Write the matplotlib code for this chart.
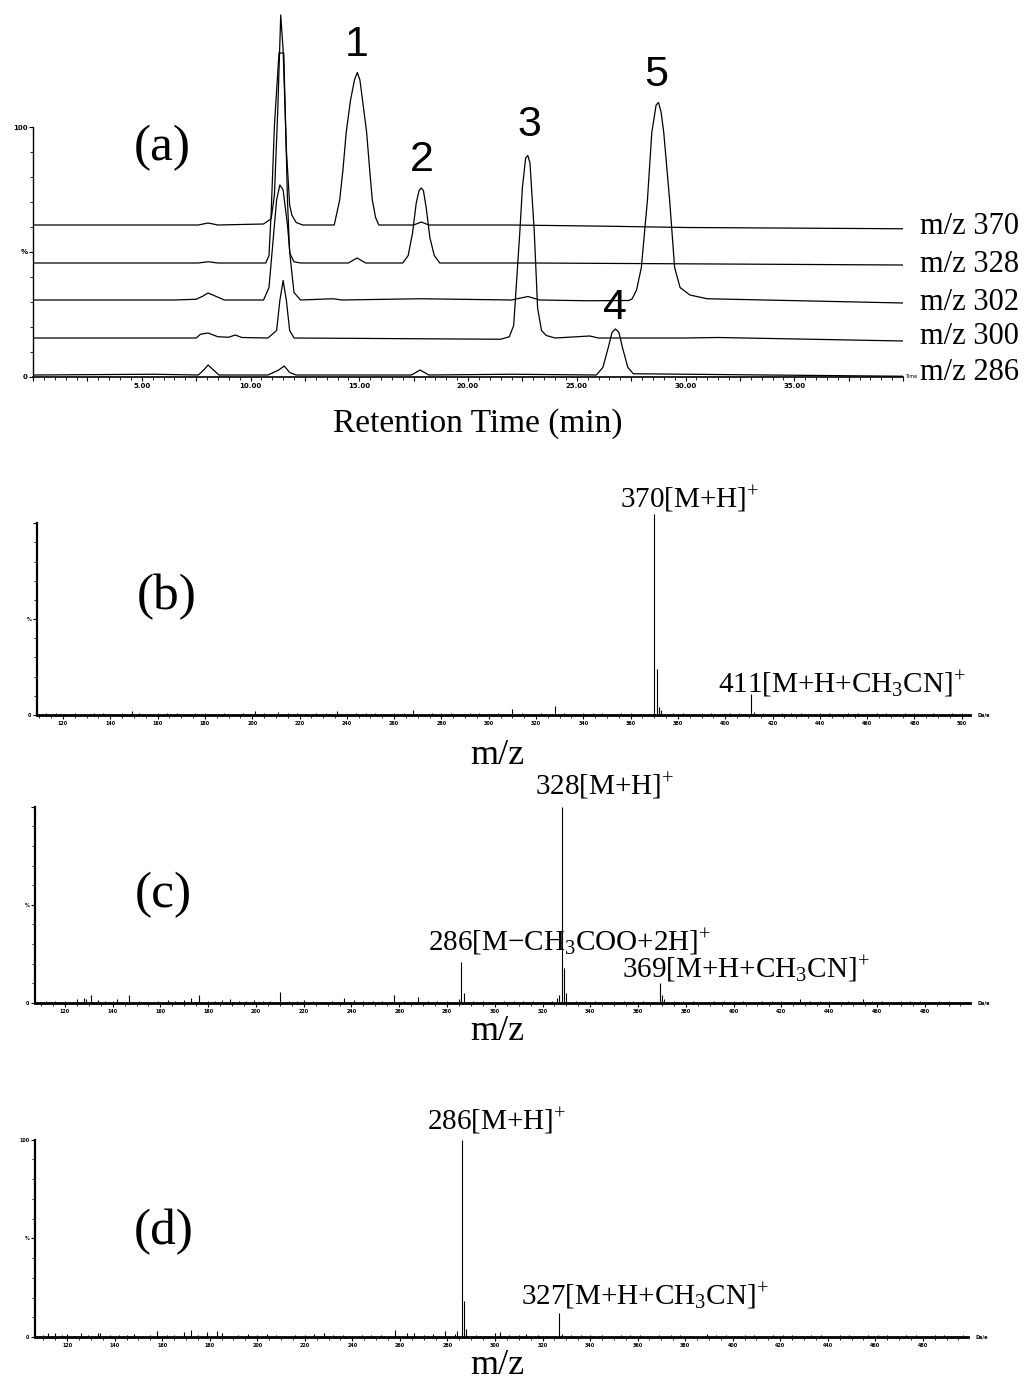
import matplotlib
matplotlib.use("Agg")
import matplotlib.pyplot as plt
from matplotlib.ticker import MultipleLocator, FixedLocator, FuncFormatter

plt.rcParams["mathtext.fontset"] = "custom"
plt.rcParams["mathtext.rm"] = "Liberation Serif"
plt.rcParams["mathtext.it"] = "Liberation Serif:italic"
plt.rcParams["mathtext.bf"] = "Liberation Serif:bold"

SERIF = "Liberation Serif"
SANS = "Liberation Sans"

# ---------------- (a) extracted ion chromatograms ----------------
TRACE_NAMES = ["m/z 370", "m/z 328", "m/z 302", "m/z 300", "m/z 286"]
TRACE_OFFSETS = [60.8, 45.6, 30.8, 15.6, 0.8]

T_370 = [0, 7.6, 8.05, 8.5, 10.6, 10.95, 11.1, 11.25, 11.39, 11.5, 11.65, 11.8, 11.9, 12.1, 12.4,
         13.85, 14.1, 14.25, 14.4, 14.6, 14.78, 14.91, 15.03, 15.15, 15.34, 15.48, 15.6, 15.75, 15.9,
         17.5, 17.85, 18.2, 22.0, 26.5, 30.0, 40.0]
I_370 = [0, 0, 0.8, 0, 0.4, 2.5, 12, 45, 84, 70, 30, 8, 4, 1, 0,
         0, 10, 22, 37, 50, 58, 61, 58, 50, 37, 22, 10, 3, 0,
         0, 1.2, 0, 0, -0.5, -1.0, -1.5]

T_328 = [0, 7.6, 8.05, 8.5, 10.7, 10.85, 10.95, 11.1, 11.31, 11.53, 11.6, 11.7, 11.8, 12.0, 12.3,
         14.5, 14.9, 15.3, 17.0, 17.25, 17.45, 17.62, 17.75, 17.85, 17.95, 18.08, 18.25, 18.45, 18.7,
         22.8, 23.0, 40.0]
I_328 = [0, 0, 0.5, 0, 0, 3, 20, 55, 84, 84, 60, 25, 4, 0.5, 0,
         0, 2, 0, 0, 3, 12, 24, 29, 30, 29, 22, 10, 3, 0,
         0, 0, -0.8]

T_302 = [0, 6.5, 7.5, 7.8, 8.05, 8.4, 8.8, 10.6, 10.85, 11.05, 11.2, 11.35, 11.5, 11.7, 11.85, 12.0, 12.3,
         13.8, 14.2, 17.8, 22.0, 22.75, 23.3, 25.5, 27.4, 27.55, 27.75, 27.97, 28.25, 28.45, 28.65,
         28.76, 28.88, 29.0, 29.27, 29.5, 29.75, 30.2, 31.0, 40.0]
I_302 = [0, 0, 0.3, 1.5, 2.8, 1.5, 0, 0, 5, 25, 40, 46, 44, 30, 15, 3, 0,
         0.5, 0, 0.5, 0, 1.4, 0, -0.3, -0.2, 0.5, 4, 13, 40, 67, 78,
         79, 75, 67, 40, 13, 5, 2, 0.5, -1.2]

T_300 = [0, 7.5, 7.7, 8.05, 8.5, 9.0, 9.3, 9.6, 10.8, 11.2, 11.35, 11.5, 11.65, 11.8, 12.0,
         21.5, 21.9, 22.1, 22.38, 22.5, 22.65, 22.75, 22.85, 23.05, 23.2, 23.38, 23.6, 24.0,
         25.6, 26.0, 30.0, 31.5, 40.0]
I_300 = [0, 0, 1.5, 2, 0.5, 0.3, 1.2, 0.2, 0, 3, 15, 23, 15, 3, 0,
         -0.5, 0.5, 5, 42, 60, 72, 73, 70, 42, 12, 3, 1, 0,
         0.8, 0, 0, 0.2, -1.2]

T_286 = [0, 5.5, 7.6, 7.85, 8.05, 8.3, 8.55, 10.8, 11.3, 11.55, 11.8, 12.1, 17.4, 17.8, 18.2,
         22.0, 25.9, 26.2, 26.45, 26.62, 26.78, 26.94, 27.1, 27.35, 27.6, 40.0]
I_286 = [0, 0.3, 0, 2, 4, 2, 0, 0, 2, 3.6, 1, 0, 0, 2, 0,
         0.3, 0, 3, 11, 17, 18.4, 17, 11, 3, 0.5, -0.5]

TRACES_T = [T_370, T_328, T_302, T_300, T_286]
TRACES_I = [I_370, I_328, I_302, I_300, I_286]

PEAK_NUMBERS = ["1", "2", "3", "4", "5"]
PEAK_NUM_T = [14.88, 17.87, 22.83, 26.74, 28.67]
PEAK_NUM_Y = [132.8, 86.8, 100.8, 27.6, 120.8]

# ---------------- (b) spectrum of peak 370 ----------------
MZ_B = [370, 371, 372, 411, 412, 149, 201, 211, 236, 268, 310, 328, 373,
        113, 117, 121, 125, 129, 133, 137, 141, 145, 152, 156, 160, 164, 168, 172, 176,
        180, 184, 188, 192, 196, 205, 215, 219, 223, 227, 231, 240, 244, 248, 252, 256,
        260, 264, 272, 276, 280, 284, 288, 292, 296, 300, 304, 314, 318, 322, 332, 336,
        340, 344, 348, 352, 356, 360, 364, 378, 382, 386, 390, 394, 398, 402, 406, 416,
        420, 424, 428, 432, 436, 440, 444, 448, 452, 456, 460, 464, 468, 472, 476, 480,
        484, 488, 492, 496, 500]
INT_B = [105, 24, 4, 11, 1.5, 2.2, 2, 1.5, 2, 2.8, 3, 4.5, 2.5,
         0.8, 1.0, 0.6, 1.2, 0.7, 1.0, 0.9, 0.6, 1.1, 1.3, 0.7, 1.0, 0.8, 1.2, 0.6, 0.9,
         1.0, 0.7, 1.1, 0.6, 0.9, 1.2, 0.8, 1.0, 0.6, 0.9, 1.1, 0.7, 1.0, 0.8, 1.2, 0.6,
         1.0, 0.9, 0.7, 1.1, 0.8, 1.0, 0.6, 0.9, 1.2, 0.7, 1.0, 0.8, 0.6, 1.1, 0.9, 0.7,
         1.0, 0.8, 1.2, 0.6, 0.9, 1.0, 0.7, 0.8, 1.1, 0.6, 0.9, 1.0, 0.7, 1.2, 0.8, 0.9,
         0.6, 1.0, 0.8, 1.1, 0.7, 0.9, 1.0, 0.6, 0.8, 1.2, 0.7, 0.9, 1.0, 0.6, 0.8, 1.1,
         0.7, 0.9, 0.6, 1.0, 0.8]

# ---------------- (c) spectrum of peak 328 ----------------
MZ_C = [328, 329, 330, 327, 326, 286, 287, 285, 369, 370, 371,
        125, 128, 129, 131, 142, 147, 170, 173, 176, 189, 210, 220, 237, 258, 268, 428, 454,
        112, 116, 120, 134, 137, 140, 151, 155, 159, 163, 166, 180, 183, 186, 193, 196, 199,
        203, 206, 214, 217, 224, 228, 232, 241, 245, 249, 253, 262, 265, 272, 276, 280,
        291, 295, 299, 304, 308, 312, 316, 320, 324, 334, 338, 342, 346, 350, 354, 358,
        362, 366, 375, 379, 383, 388, 392, 396, 400, 404, 408, 412, 416, 420, 424, 432,
        436, 440, 444, 448, 458, 462, 466, 470, 474, 478, 482, 486, 490, 494]
INT_C = [100, 18, 5, 4, 2.5, 21, 5, 2, 10, 4, 2,
         2, 2.5, 2, 4, 2, 4, 1.5, 2.5, 4, 2, 5.5, 1.5, 2.5, 4, 3, 2, 2,
         0.8, 1.0, 1.2, 1.5, 1.0, 0.8, 1.2, 0.7, 1.0, 1.3, 0.9, 1.1, 0.8, 1.4, 1.2, 0.9, 1.5,
         1.0, 0.8, 1.2, 0.9, 1.1, 0.7, 1.0, 1.3, 0.8, 1.0, 0.9, 1.2, 0.7, 1.0, 0.8, 1.1,
         0.9, 1.2, 0.7, 1.0, 0.8, 1.1, 0.9, 0.7, 1.0, 0.8, 1.2, 0.9, 0.7, 1.0, 0.8, 1.1,
         0.9, 0.7, 1.0, 0.8, 0.9, 0.7, 1.1, 0.8, 0.9, 1.0, 0.7, 0.8, 1.0, 0.9, 0.7, 1.1,
         0.8, 1.0, 0.7, 0.9, 0.8, 1.0, 0.7, 0.9, 0.8, 1.0, 0.7, 0.9, 0.8, 0.7]

# ---------------- (d) spectrum of peak 286 ----------------
MZ_D = [286, 287, 288, 327, 328, 112, 115, 120, 126, 133, 134, 148, 158, 169, 172, 179,
        183, 185, 196, 204, 224, 228, 258, 263, 266, 274, 279, 283, 284, 300, 302, 313,
        340, 369, 389,
        110, 118, 123, 129, 138, 142, 145, 152, 155, 162, 165, 175, 188, 192, 200, 208,
        212, 216, 220, 232, 236, 240, 244, 248, 252, 270, 292, 296, 306, 310, 318, 322,
        332, 336, 345, 349, 353, 357, 361, 365, 374, 378, 382, 393, 397, 401, 405, 409,
        413, 417, 421, 425, 429, 433, 437, 441, 445, 449, 453, 457, 461, 465, 469, 473,
        477, 481, 485, 489, 493, 497]
INT_D = [100, 18, 4, 12, 1.5, 2, 2, 1.5, 2, 2, 2, 1.5, 3, 2.5, 3.5, 2.5,
         3, 2, 1.5, 1.5, 1.5, 2, 3.5, 2, 2, 1.5, 3, 1.5, 3, 2, 2.5, 1.5,
         1, 1, 1.5,
         0.8, 1.0, 0.7, 1.1, 0.9, 0.8, 1.2, 0.7, 1.0, 0.9, 0.8, 1.1, 0.7, 1.0, 0.8, 0.9,
         0.7, 1.0, 0.8, 0.9, 1.1, 0.7, 0.8, 1.0, 0.9, 0.8, 1.1, 0.7, 0.9, 1.0, 0.8, 0.7,
         0.9, 0.8, 1.0, 0.7, 0.8, 0.9, 1.0, 0.7, 0.8, 0.9, 0.7, 0.8, 1.0, 0.7, 0.9, 0.8,
         0.7, 1.0, 0.8, 0.9, 0.7, 0.8, 1.0, 0.7, 0.9, 0.8, 0.7, 1.0, 0.8, 0.9, 0.7, 0.8,
         1.0, 0.7, 0.9, 0.8, 0.7, 0.9]

W, H = 1036, 1382
fig = plt.figure(figsize=(W / 100, H / 100), dpi=100)


def add_axes_px(left, right, bottom, top):
    return fig.add_axes([left / W, 1 - bottom / H, (right - left) / W, (bottom - top) / H])


def ftext(x, y, s, size, family=SERIF, **kw):
    fig.text(x / W, 1 - y / H, s, fontsize=size, family=family,
             ha=kw.pop("ha", "center"), va=kw.pop("va", "center"), **kw)


def style_axes(ax):
    for side in ["top", "right"]:
        ax.spines[side].set_visible(False)
    ax.spines["left"].set_bounds(0, 100)
    ax.yaxis.set_major_locator(FixedLocator([0, 50, 100]))
    ax.yaxis.set_minor_locator(FixedLocator([10, 20, 30, 40, 60, 70, 80, 90]))
    ax.tick_params(axis="both", which="major", direction="out", length=3, width=0.8, pad=1)
    ax.tick_params(axis="both", which="minor", direction="out", length=2, width=0.6)
    ax.set_facecolor("none")


# ---- panel (a)
ax_a = add_axes_px(33, 903, 377, 2)
for t, inten, off in zip(TRACES_T, TRACES_I, TRACE_OFFSETS):
    ax_a.plot(t, [off + v for v in inten], color="black", lw=0.9)
ax_a.set_xlim(0, 40)
ax_a.set_ylim(0, 150)
style_axes(ax_a)
ax_a.spines["left"].set_linewidth(1.0)
ax_a.spines["bottom"].set_linewidth(1.2)
ax_a.xaxis.set_major_locator(MultipleLocator(2.5))
ax_a.xaxis.set_minor_locator(MultipleLocator(0.5))
ax_a.xaxis.set_major_formatter(FuncFormatter(lambda v, p: f"{v:.2f}" if v % 5 == 0 and 0 < v < 40 else ""))
ax_a.yaxis.set_major_formatter(FuncFormatter(lambda v, p: {0: "0", 50: "%", 100: "100"}.get(int(v), "")))
for lab in ax_a.get_xticklabels() + ax_a.get_yticklabels():
    lab.set_fontsize(5)
    lab.set_fontweight("bold")
ax_a.text(40.1, 0, "Time", fontsize=3.5, ha="left", va="center", clip_on=False)

for name, off in zip(TRACE_NAMES, [60.4, 45.2, 30.0, 16.0, 1.6]):
    ax_a.text(40.76, off, name, fontsize=22, family=SERIF, ha="left", va="center", clip_on=False)
for num, t, y in zip(PEAK_NUMBERS, PEAK_NUM_T, PEAK_NUM_Y):
    ax_a.text(t, y, num, fontsize=31, family=SANS, ha="center", va="center")

ftext(162, 148, "(a)", 37)
ftext(478, 424, "Retention Time (min)", 24)


# ---- spectra panels
def spectrum(box, xlim, mz, inten, top_label=False):
    ax = add_axes_px(*box)
    ax.vlines(mz, 0, inten, color="black", lw=0.8)
    ax.set_xlim(*xlim)
    ax.set_ylim(0, 110)
    style_axes(ax)
    ax.spines["left"].set_linewidth(1.6)
    ax.spines["bottom"].set_linewidth(2.0)
    ax.xaxis.set_major_locator(MultipleLocator(20))
    ax.xaxis.set_minor_locator(MultipleLocator(5))
    ax.xaxis.set_major_formatter(FuncFormatter(lambda v, p: f"{v:.0f}"))
    labels = {0: "0", 50: "%", 100: "100" if top_label else ""}
    ax.yaxis.set_major_formatter(FuncFormatter(lambda v, p: labels.get(int(v), "")))
    for lab in ax.get_xticklabels() + ax.get_yticklabels():
        lab.set_fontsize(3.5)
        lab.set_fontweight("bold")
    ax.text(xlim[1] + 3, 0, "Da/e", fontsize=3.5, fontweight="bold", ha="left", va="center", clip_on=False)
    return ax


spectrum((37, 970, 715, 504), (109, 503.5), MZ_B, INT_B)
spectrum((35, 970, 1003, 787), (107.5, 499), MZ_C, INT_C)
spectrum((35, 968, 1337, 1120), (106.5, 499), MZ_D, INT_D, top_label=True)

# panel labels and ion annotations
ftext(167, 597, "(b)", 37)
ftext(690, 499, "370[M+H]$^{+}$", 21)
ftext(842, 684, "411[M+H+CH$_{3}$CN]$^{+}$", 21)
ftext(497, 755, "m/z", 26)

ftext(163, 895, "(c)", 37)
ftext(605, 786, "328[M+H]$^{+}$", 21)
ftext(570, 942, "286[M\u2212CH$_{3}$COO+2H]$^{+}$", 21)
ftext(746, 969, "369[M+H+CH$_{3}$CN]$^{+}$", 21)
ftext(497, 1031, "m/z", 26)

ftext(164, 1232, "(d)", 37)
ftext(497, 1121, "286[M+H]$^{+}$", 21)
ftext(645, 1296, "327[M+H+CH$_{3}$CN]$^{+}$", 21)
ftext(497, 1365, "m/z", 26)

fig.savefig("out.png", dpi=100)
